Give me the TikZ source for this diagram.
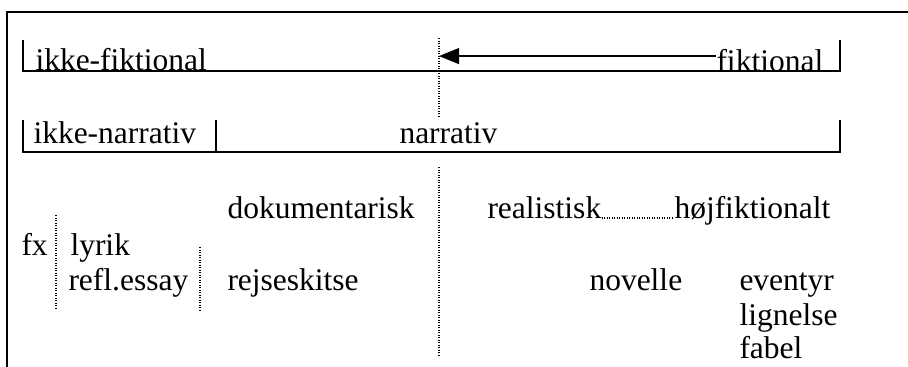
\documentclass[tikz,border=0pt]{standalone}
\usepackage{fontspec}
\setmainfont{Liberation Serif}
\usetikzlibrary{arrows.meta}
\begin{document}
\begin{tikzpicture}
  [x=0.4pt,y=0.4pt,
    txt/.style={anchor=base west,inner sep=0pt,font=\fontsize{12.6}{15}\selectfont},
    frame/.style={draw,line width=0.8pt},
    ruler/.style={draw,line width=0.5pt},
    dotline/.style={draw,line width=0.45pt,dash pattern=on 0.45pt off 0.55pt},
    arr/.style={-{Triangle[length=8pt,width=6.4pt]},line width=0.5pt},
]

  \useasboundingbox (0,0) rectangle (908,-367);
  \draw[frame] (7,-367)--(7,-12)--(908,-12);

  \draw[ruler] (23,-40)--(23,-71)--(840,-71)--(840,-40);
  \node[txt](ikf) at (35,-70) {ikke-fiktional};
  \node[txt](fik) at (716,-71) {fiktional};

  \coordinate(d1top) at (439,-38);
  \coordinate(d1bot) at (439,-117);
  \draw[dotline] (d1top)--(d1bot);
  \draw[arr] ([yshift=1.6pt]fik.west) -- ([yshift=1.6pt]fik.west -| d1top);

  \draw[ruler] (23,-120)--(23,-152)--(840,-152)--(840,-120);
  \draw[ruler] (216,-120)--(216,-152);
  \node[txt](ikn) at (33,-143) {ikke-narrativ};
  \node[txt](nar) at (399,-143) {narrativ};

  \draw[dotline] (439,-167)--(439,-357);
  \draw[dotline] (56,-215)--(56,-308);
  \draw[dotline] (200,-247)--(200,-310);

  \node[txt](dok) at (227,-218) {dokumentarisk};
  \node[txt](real) at (487,-218) {realistisk};
  \node[txt](hoj) at (674,-218) {højfiktionalt};
  \draw[dotline] (real.base east)--(hoj.base west);

  \node[txt](fx) at (21,-255) {fx};
  \node[txt](lyr) at (70,-255) {lyrik};
  \node[txt](refl) at (68,-290) {refl.essay};
  \node[txt](rejs) at (227,-290) {rejseskitse};
  \node[txt](nov) at (589,-290) {novelle};
  \node[txt](eve) at (739,-290) {eventyr};
  \node[txt](lig) at (739,-325) {lignelse};
  \node[txt](fab) at (739,-358) {fabel};

\end{tikzpicture}
\end{document}
